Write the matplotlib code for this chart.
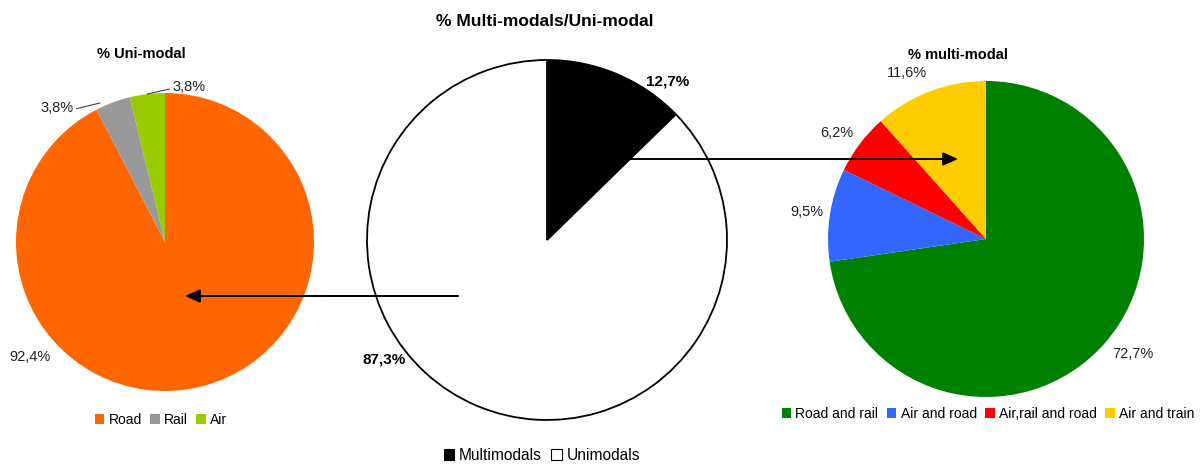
import matplotlib.pyplot as plt
from matplotlib.patches import Patch
import numpy as np

plt.rcParams['font.family'] = ['Liberation Sans', 'DejaVu Sans']

# data
uni_labels = ["Road", "Rail", "Air"]
uni_values = [92.4, 3.8, 3.8]
uni_colors = ["#FF6600", "#999999", "#99CC00"]

mm_labels = ["Multimodals", "Unimodals"]
mm_values = [12.7, 87.3]
mm_colors = ["#000000", "#FFFFFF"]

multi_labels = ["Road and rail", "Air and road", "Air,rail and road", "Air and train"]
multi_values = [72.7, 9.5, 6.2, 11.6]
multi_colors = ["#008000", "#3366FF", "#FF0000", "#FFCC00"]

W, H = 1201, 466


def fmt(v):
    return f"{v:.1f}%".replace(".", ",")


def px(x, y):
    # pixel position (top-left origin) -> data coords
    return (x, H - y)


fig = plt.figure(figsize=(W / 100, H / 100), dpi=100)
ax = fig.add_axes([0, 0, 1, 1])

# left pie: uni-modal
c_left, r_left = (165, 242), 149
w_left, _ = ax.pie(uni_values, colors=uni_colors, startangle=90, counterclock=False,
                   center=px(*c_left), radius=r_left,
                   wedgeprops=dict(linewidth=0))

# middle pie: multi vs uni
c_mid, r_mid = (547, 240), 180
w_mid, _ = ax.pie(mm_values, colors=mm_colors, startangle=90, counterclock=False,
                  center=px(*c_mid), radius=r_mid,
                  wedgeprops=dict(linewidth=1.3, edgecolor="black"))

# right pie: multi-modal
c_right, r_right = (986, 239), 158
w_right, _ = ax.pie(multi_values, colors=multi_colors, startangle=90, counterclock=False,
                    center=px(*c_right), radius=r_right,
                    wedgeprops=dict(linewidth=0))

ax.set_xlim(0, W)
ax.set_ylim(0, H)
ax.set_aspect('auto')
ax.axis('off')

# titles
ax.text(*px(545, 21), "% Multi-modals/Uni-modal", ha="center", va="center",
        fontsize=12.5, fontweight="bold")
ax.text(*px(141, 54), "% Uni-modal", ha="center", va="center",
        fontsize=10.5, fontweight="bold")
ax.text(*px(958, 55), "% multi-modal", ha="center", va="center",
        fontsize=10.5, fontweight="bold")


def rim(wedge, frac=1.0):
    ang = np.deg2rad((wedge.theta1 + wedge.theta2) / 2)
    cx, cy = wedge.center
    return (cx + wedge.r * frac * np.cos(ang), cy + wedge.r * frac * np.sin(ang))


lab = dict(ha="center", va="center", fontsize=10.5, color="#222222")

# left labels
ax.text(*px(30, 357), fmt(uni_values[0]), **lab)
ax.annotate(fmt(uni_values[1]), xy=px(100, 103), xytext=px(57, 108),
            arrowprops=dict(arrowstyle="-", lw=0.8, color="#404040",
                            shrinkA=0, shrinkB=0, relpos=(1.0, 0.4)), **lab)
ax.annotate(fmt(uni_values[2]), xy=rim(w_left[2]), xytext=px(189, 87),
            arrowprops=dict(arrowstyle="-", lw=0.8, color="#404040",
                            shrinkA=0, shrinkB=0, relpos=(0.0, 0.4)), **lab)

# middle labels
ax.text(*px(668, 82), fmt(mm_values[0]), ha="center", va="center",
        fontsize=11, fontweight="bold")
ax.text(*px(384, 359), fmt(mm_values[1]), ha="center", va="center",
        fontsize=11, fontweight="bold")

# right labels
ax.text(*px(1133, 354), fmt(multi_values[0]), **lab)
ax.text(*px(807, 212), fmt(multi_values[1]), **lab)
ax.text(*px(837, 133), fmt(multi_values[2]), **lab)
ax.text(*px(907, 73), fmt(multi_values[3]), **lab)

# arrows
arrow = dict(arrowstyle="-|>,head_length=0.9,head_width=0.4", lw=1.4, color="black",
             shrinkA=0, shrinkB=0)
ax.annotate("", xy=px(185, 296), xytext=px(458, 296), arrowprops=arrow)
ax.annotate("", xy=px(958, 159), xytext=px(628, 159), arrowprops=arrow)

# legends
leg_kw = dict(frameon=False, fontsize=10, handlelength=0.7, handleheight=0.7,
              handletextpad=0.3, columnspacing=0.6, borderpad=0, loc="center")

h_uni = [Patch(facecolor=c, edgecolor="none") for c in uni_colors]
l1 = fig.legend(h_uni, uni_labels, ncol=3,
                bbox_to_anchor=(161 / W, 1 - 420 / H), **leg_kw)

h_mm = [Patch(facecolor=c, edgecolor="black", linewidth=0.8) for c in mm_colors]
leg_kw_mid = dict(leg_kw, fontsize=11.2)
l2 = fig.legend(h_mm, mm_labels, ncol=2,
                bbox_to_anchor=(542 / W, 1 - 455 / H), **leg_kw_mid)

h_multi = [Patch(facecolor=c, edgecolor="none") for c in multi_colors]
l3 = fig.legend(h_multi, multi_labels, ncol=4,
                bbox_to_anchor=(988 / W, 1 - 414 / H), **leg_kw)

fig.savefig("out.png", dpi=100, facecolor="white")
